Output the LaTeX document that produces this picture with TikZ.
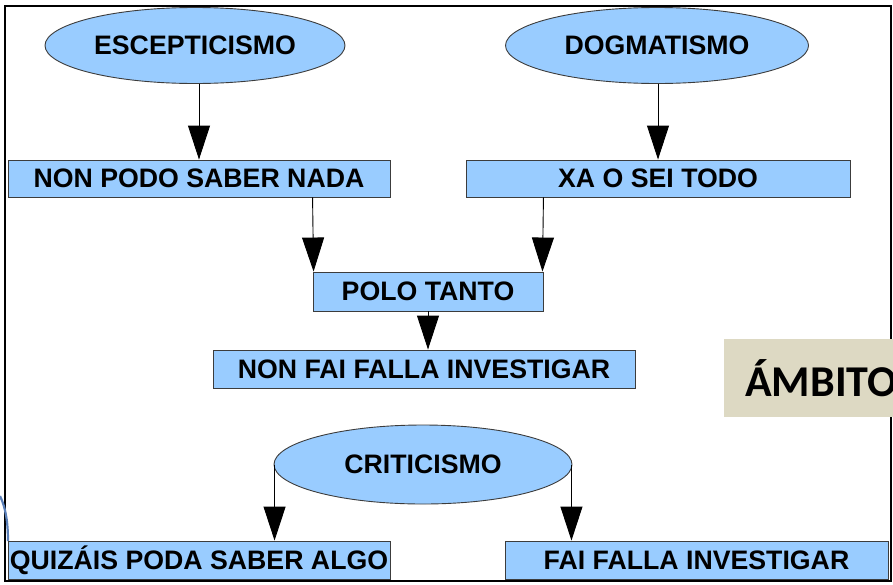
\documentclass[tikz,border=0pt]{standalone}
\usepackage{fontspec}
\setmainfont{Liberation Sans}
\newfontfamily\calib{Carlito}
\usetikzlibrary{shapes.geometric,arrows.meta}
\definecolor{boxblue}{HTML}{99CCFF}
\definecolor{boxline}{HTML}{3C3C3C}
\definecolor{tanbg}{HTML}{DDD9C3}
\definecolor{arcblue}{HTML}{5A7FB8}
\tikzset{
  lbl/.style={font=\fontsize{26.7}{30}\selectfont\bfseries, text=black, inner sep=0pt},
  bluebox/.style={lbl, rectangle, draw=boxline, line width=0.9pt, fill=boxblue},
  blueell/.style={lbl, ellipse, draw=boxline, line width=0.9pt, fill=boxblue, minimum width=300pt, minimum height=76pt},
  arr/.style={draw=black, line width=0.9pt, -{Triangle[width=22pt,length=34pt]}}
}
\begin{document}
\begin{tikzpicture}[x=1pt,y=-1pt]
\useasboundingbox (0,0) rectangle (893,584);
\begin{scope}
\clip (0,0) rectangle (893,584);
% frame
\draw[line width=1.8pt, black] (5,6) rectangle (891,581);
% ambito box
\node[fill=tanbg, minimum width=200pt, minimum height=78pt, inner sep=0pt, anchor=north west] (amb) at (724,339) {};
\node[font=\calib\fontsize{44}{48}\selectfont\bfseries, anchor=base west, inner sep=0pt] (ambt) at (745,396) {ÁMBITO};
% blue arc at left
\draw[arcblue, line width=2.2pt] (0,496) .. controls (6,508) and (8,524) .. (8,541);
% nodes
\node[blueell] (esc) at (195,45.5) {ESCEPTICISMO};
\node[blueell, minimum width=303pt] (dog) at (657,45.5) {DOGMATISMO};
\node[bluebox, minimum width=382pt, minimum height=37pt] (nps) at (199,178.5) {NON PODO SABER NADA};
\node[bluebox, minimum width=384pt, minimum height=37pt] (xa) at (658,178.5) {XA O SEI TODO};
\node[bluebox, minimum width=230pt, minimum height=39pt] (polo) at (428,291.5) {POLO TANTO};
\node[bluebox, minimum width=422pt, minimum height=38pt] (nonfai) at (424,369) {NON FAI FALLA INVESTIGAR};
\node[blueell, minimum width=298pt, minimum height=79pt] (crit) at (423,464.5) {CRITICISMO};
\node[bluebox, minimum width=382pt, minimum height=38pt] (quiz) at (199,560) {QUIZÁIS PODA SABER ALGO};
\node[bluebox, minimum width=383pt, minimum height=38pt] (fai) at (696.5,560) {FAI FALLA INVESTIGAR};
% connectors
\draw[arr] (esc.south -| nps.north) -- (nps.north);
\draw[arr] (dog.south -| xa.north) -- (xa.north);
\draw[arr] (nps.south -| polo.north west) -- ([xshift=1pt]polo.north west);
\draw[arr] (xa.south -| polo.north east) -- ([xshift=-1pt]polo.north east);
\draw[arr] (polo.south) -- (polo.south |- nonfai.north);
\draw[arr] ([xshift=1pt]crit.west) -- ([xshift=1pt]crit.west |- quiz.north);
\draw[arr] ([xshift=-1pt]crit.east) -- ([xshift=-1pt]crit.east |- fai.north);
\end{scope}
\end{tikzpicture}
\end{document}
